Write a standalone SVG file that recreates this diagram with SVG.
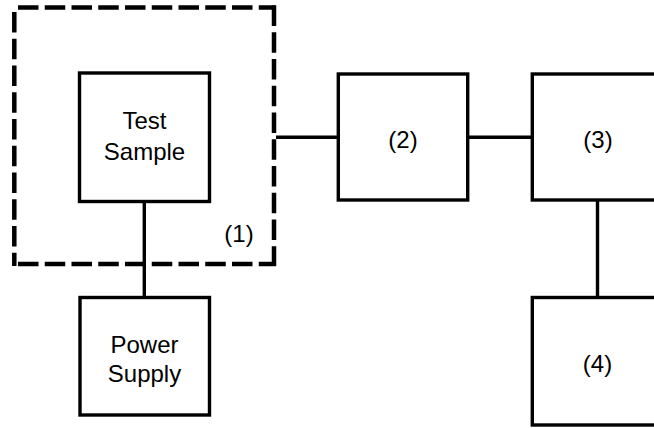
<svg xmlns="http://www.w3.org/2000/svg" width="654" height="428" viewBox="0 0 654 428">
<style>
.box{fill:#fff;stroke:#000;stroke-width:3.4}
.dash{fill:none;stroke:#000;stroke-width:4.5;stroke-dasharray:20.5 6.25}
.wire{fill:none;stroke:#000;stroke-width:3.4}
text{font-family:"Liberation Sans",Arial,sans-serif;font-size:24px;fill:#000;text-anchor:middle}
</style>
<rect width="654" height="428" fill="#fff"/>
<g id="group1">
<line class="dash" x1="18" y1="7.5" x2="276" y2="7.5"/>
<line class="dash" x1="14.3" y1="12" x2="14.3" y2="266"/>
<line class="dash" x1="18" y1="264" x2="276" y2="264"/>
<line class="dash" x1="274" y1="5.5" x2="274" y2="266"/>
<text x="239" y="242">(1)</text>
</g>
<g id="connectors">
<line class="wire" x1="276" y1="137.3" x2="338.3" y2="137.3"/>
<line class="wire" x1="467.7" y1="137.3" x2="532.3" y2="137.3"/>
<line class="wire" x1="144.3" y1="201.5" x2="144.3" y2="297.5"/>
<line class="wire" x1="597.5" y1="200" x2="597.5" y2="297.5"/>
</g>
<g id="test-sample">
<rect class="box" x="79.5" y="73" width="130" height="128.5"/>
<text x="144.5" y="129">Test</text>
<text x="144.5" y="159.5">Sample</text>
</g>
<g id="power-supply">
<rect class="box" x="80" y="297.5" width="129.5" height="117.5"/>
<text x="144.5" y="353">Power</text>
<text x="144.5" y="382">Supply</text>
</g>
<g id="node2">
<rect class="box" x="338.3" y="74" width="129.4" height="126"/>
<text x="403" y="148">(2)</text>
</g>
<g id="node3">
<rect class="box" x="532.3" y="74" width="140" height="126"/>
<text x="598" y="148">(3)</text>
</g>
<g id="node4">
<rect class="box" x="532.3" y="297.5" width="140" height="127.5"/>
<text x="597.5" y="372">(4)</text>
</g>
</svg>
